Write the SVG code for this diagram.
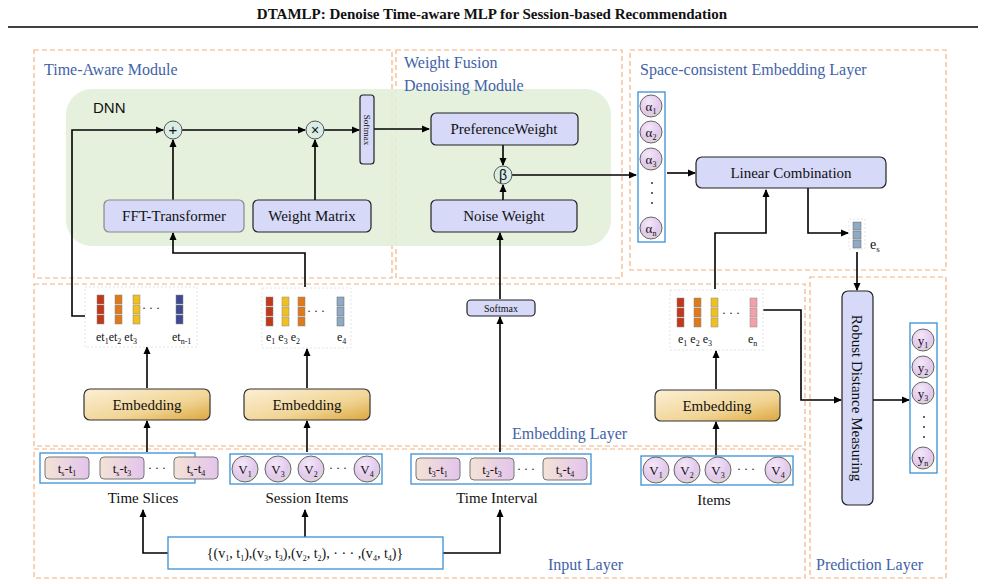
<svg xmlns="http://www.w3.org/2000/svg" width="985" height="584" viewBox="0 0 985 584">
<style>
text{font-family:"Liberation Serif",serif;fill:#111}
.ttl{font-weight:bold;font-size:15px}
.lay{fill:none;stroke:#f4b183;stroke-width:1.2;stroke-dasharray:5,3}
.lab{fill:#3f63a8;font-size:16px}
.blue{fill:#d6d9f7;stroke:#222;stroke-width:1.2}
.nt{font-size:15px;text-anchor:middle}
.emb{fill:url(#g);stroke:#333;stroke-width:1.2}
.grp{fill:#fff;stroke:#3a8fd6;stroke-width:1.3}
.pk{fill:url(#pg);stroke:#777;stroke-width:1}
.cir{fill:url(#cg);stroke:#666;stroke-width:1}
.op{fill:#d9ece6;stroke:#555;stroke-width:1}
.st{font-size:13px;text-anchor:middle}
.sm{font-size:12px;text-anchor:middle}
.vb{fill:#fff;stroke:#ddd;stroke-width:0.8;stroke-dasharray:2,2}
#conn path,#conn line{fill:none;stroke:#000;stroke-width:1.6;marker-end:url(#a)}
</style>
<defs>
<marker id="a" markerWidth="8" markerHeight="8" refX="7" refY="4" orient="auto" markerUnits="userSpaceOnUse"><path d="M0,0.5 L8,4 L0,7.5z" fill="#000"/></marker>
<linearGradient id="g" x1="0" y1="0" x2="1" y2="1"><stop offset="0" stop-color="#fcefd6"/><stop offset="0.6" stop-color="#f1d596"/><stop offset="1" stop-color="#dca73e"/></linearGradient>
<linearGradient id="pg" x1="0" y1="0" x2="1" y2="0"><stop offset="0" stop-color="#f4e3d6"/><stop offset="1" stop-color="#e3c4ec"/></linearGradient>
<radialGradient id="cg" cx="0.4" cy="0.3" r="0.8"><stop offset="0" stop-color="#f3e8f7"/><stop offset="0.6" stop-color="#e3c9ee"/><stop offset="1" stop-color="#d8dcc8"/></radialGradient>
<g id="bar"><rect x="0" y="0" width="7" height="9"/><rect x="0" y="10" width="7" height="9"/><rect x="0" y="20" width="7" height="9"/></g>
</defs>
<rect width="985" height="584" fill="#fff"/>
<text class="ttl" x="492" y="19" text-anchor="middle">DTAMLP: Denoise Time-aware MLP for Session-based Recommendation</text>
<line x1="8" y1="27" x2="978" y2="27" stroke="#000" stroke-width="1.5"/>

<g id="layers">
<rect class="lay" x="34" y="50" width="358" height="228"/>
<rect class="lay" x="396" y="50" width="226" height="228"/>
<rect class="lay" x="630" y="50" width="316" height="220"/>
<rect class="lay" x="34" y="284" width="771" height="162"/>
<rect class="lay" x="34" y="449" width="771" height="129"/>
<rect class="lay" x="810" y="277" width="136" height="301"/>
<rect x="66" y="89" width="545" height="157" rx="26" fill="#e2f0d9" opacity="0.9"/>
<text class="lab" x="44" y="75">Time-Aware Module</text>
<text class="lab" x="404" y="68">Weight Fusion</text>
<text class="lab" x="404" y="91">Denoising Module</text>
<text class="lab" x="640" y="75">Space-consistent Embedding Layer</text>
<text class="lab" x="512" y="439">Embedding Layer</text>
<text class="lab" x="548" y="570">Input Layer</text>
<text class="lab" x="816" y="570">Prediction Layer</text>
<text x="93" y="113" style="font-family:'Liberation Sans',sans-serif;font-size:15px">DNN</text>
</g>

<g id="conn">
<path d="M85,316 H72 V130 H163"/>
<line x1="182" y1="130" x2="305" y2="130"/>
<line x1="324" y1="130" x2="359" y2="130"/>
<line x1="374" y1="129" x2="429" y2="129"/>
<line x1="173" y1="200" x2="173" y2="140"/>
<line x1="315" y1="200" x2="315" y2="140"/>
<path d="M305,287 V253 H173 V233"/>
<line x1="503" y1="145" x2="503" y2="165"/>
<line x1="503" y1="200" x2="503" y2="185"/>
<line x1="500" y1="299" x2="500" y2="233"/>
<line x1="512" y1="175" x2="636" y2="175"/>
<line x1="667" y1="173" x2="695" y2="173"/>
<path d="M715,289 V233 H766 V190"/>
<path d="M808,188 V233 H848"/>
<line x1="857" y1="252" x2="857" y2="290"/>
<path d="M763,310 H801 V400 H841"/>
<line x1="873" y1="400" x2="909" y2="400"/>
<line x1="147" y1="388" x2="147" y2="347"/>
<line x1="147" y1="452" x2="147" y2="421"/>
<line x1="307" y1="388" x2="307" y2="349"/>
<line x1="307" y1="452" x2="307" y2="421"/>
<line x1="500" y1="452" x2="500" y2="317"/>
<line x1="716" y1="389" x2="716" y2="351"/>
<line x1="716" y1="455" x2="716" y2="422"/>
<path d="M168,553 H143 V510"/>
<line x1="305" y1="537" x2="305" y2="510"/>
<path d="M443,553 H500 V510"/>
</g>

<g id="plus"><circle class="op" cx="173" cy="130" r="9"/><text x="173" y="135" text-anchor="middle" style="font-family:'Liberation Sans',sans-serif;font-size:15px">+</text></g>
<g id="times"><circle class="op" cx="315" cy="130" r="9"/><text x="315" y="135" text-anchor="middle" style="font-family:'Liberation Sans',sans-serif;font-size:14px">×</text></g>
<g id="softmax1"><rect class="blue" x="360" y="95" width="14" height="69" rx="3"/><text x="367" y="130" font-size="9" text-anchor="middle" transform="rotate(90 367 130)" dy="3">Softmax</text></g>
<g id="fft"><rect class="blue" x="104" y="200" width="140" height="32" rx="5" style="stroke:#888"/><text class="nt" x="174" y="221">FFT-Transformer</text></g>
<g id="wm"><rect class="blue" x="253" y="200" width="118" height="32" rx="5"/><text class="nt" x="312" y="221">Weight Matrix</text></g>
<g id="pw"><rect class="blue" x="431" y="113" width="147" height="32" rx="5"/><text class="nt" x="504" y="134">PreferenceWeight</text></g>
<g id="beta"><circle class="op" cx="503" cy="175" r="9"/><text x="503" y="180" text-anchor="middle" style="font-family:'Liberation Sans',sans-serif;font-size:14px">β</text></g>
<g id="nw"><rect class="blue" x="431" y="200" width="146" height="32" rx="5"/><text class="nt" x="504" y="221">Noise Weight</text></g>
<g id="softmax2"><rect class="blue" x="467" y="300" width="68" height="16" rx="4"/><text x="501" y="312" font-size="10" text-anchor="middle">Softmax</text></g>

<g id="etvec"><rect class="vb" x="85" y="287" width="112" height="60"/>
<use href="#bar" x="97" y="295" fill="#c0391b" stroke="#888" stroke-width="0.5"/>
<use href="#bar" x="115" y="295" fill="#dd7a1c" stroke="#888" stroke-width="0.5"/>
<use href="#bar" x="133" y="295" fill="#f0c020" stroke="#888" stroke-width="0.5"/>
<text x="142" y="312" font-size="12">· · ·</text>
<use href="#bar" x="176" y="295" fill="#404a90" stroke="#888" stroke-width="0.5"/>
<text x="96" y="341" font-size="12">et<tspan font-size="8" dy="3">1</tspan><tspan dy="-3">et</tspan><tspan font-size="8" dy="3">2</tspan><tspan dy="-3"> et</tspan><tspan font-size="8" dy="3">3</tspan></text>
<text x="172" y="341" font-size="12">et<tspan font-size="8" dy="3">n-1</tspan></text>
</g>
<g id="evec"><rect class="vb" x="262" y="288" width="89" height="60"/>
<use href="#bar" x="266" y="297" fill="#c0391b" stroke="#888" stroke-width="0.5"/>
<use href="#bar" x="282" y="297" fill="#f0c020" stroke="#888" stroke-width="0.5"/>
<use href="#bar" x="298" y="297" fill="#dd7a1c" stroke="#888" stroke-width="0.5"/>
<text x="307" y="315" font-size="12">· · ·</text>
<use href="#bar" x="337" y="297" fill="#8eaac4" stroke="#666" stroke-width="0.5"/>
<text x="266" y="341" font-size="12">e<tspan font-size="8" dy="3">1</tspan><tspan dy="-3"> e</tspan><tspan font-size="8" dy="3">3</tspan><tspan dy="-3"> e</tspan><tspan font-size="8" dy="3">2</tspan></text>
<text x="337" y="341" font-size="12">e<tspan font-size="8" dy="3">4</tspan></text>
</g>
<g id="ivec"><rect class="vb" x="670" y="290" width="93" height="60"/>
<use href="#bar" x="677" y="298" fill="#c0391b" stroke="#888" stroke-width="0.5"/>
<use href="#bar" x="694" y="298" fill="#dd7a1c" stroke="#888" stroke-width="0.5"/>
<use href="#bar" x="711" y="298" fill="#f0c020" stroke="#888" stroke-width="0.5"/>
<text x="722" y="317" font-size="12">· · ·</text>
<use href="#bar" x="750" y="298" fill="#f4a0a8" stroke="#888" stroke-width="0.5"/>
<text x="678" y="343" font-size="12">e<tspan font-size="8" dy="3">1</tspan><tspan dy="-3"> e</tspan><tspan font-size="8" dy="3">2</tspan><tspan dy="-3"> e</tspan><tspan font-size="8" dy="3">3</tspan></text>
<text x="748" y="343" font-size="12">e<tspan font-size="8" dy="3">n</tspan></text>
</g>

<g id="emb1"><rect class="emb" x="84" y="389" width="126" height="31" rx="6"/><text class="nt" x="147" y="410">Embedding</text></g>
<g id="emb2"><rect class="emb" x="244" y="389" width="126" height="31" rx="6"/><text class="nt" x="307" y="410">Embedding</text></g>
<g id="emb3"><rect class="emb" x="655" y="390" width="125" height="31" rx="6"/><text class="nt" x="717" y="411">Embedding</text></g>

<g id="timeslices"><rect class="grp" x="40" y="453" width="155" height="30"/>
<rect class="pk" x="45" y="457" width="44" height="22" rx="4"/><rect class="pk" x="100" y="457" width="44" height="22" rx="4"/><rect class="pk" x="176" y="457" width="44" height="22" rx="4" transform="translate(-2,0)"/>
<text class="st" x="67" y="473">t<tspan font-size="8" dy="3">s</tspan><tspan dy="-3">-t</tspan><tspan font-size="8" dy="3">1</tspan></text>
<text class="st" x="122" y="473">t<tspan font-size="8" dy="3">s</tspan><tspan dy="-3">-t</tspan><tspan font-size="8" dy="3">3</tspan></text>
<text x="148" y="472" font-size="12">· · ·</text>
<text class="st" x="196" y="473">t<tspan font-size="8" dy="3">s</tspan><tspan dy="-3">-t</tspan><tspan font-size="8" dy="3">4</tspan></text>
<text class="nt" x="143" y="503" font-size="16">Time Slices</text></g>

<g id="sessitems"><rect class="grp" x="230" y="454" width="152" height="30"/>
<circle class="cir" cx="245" cy="469" r="13"/><circle class="cir" cx="278" cy="469" r="13"/><circle class="cir" cx="311" cy="469" r="13"/><circle class="cir" cx="367" cy="469" r="13"/>
<text class="st" x="245" y="474" font-size="14">V<tspan font-size="8" dy="3">1</tspan></text>
<text class="st" x="278" y="474" font-size="14">V<tspan font-size="8" dy="3">3</tspan></text>
<text class="st" x="311" y="474" font-size="14">V<tspan font-size="8" dy="3">2</tspan></text>
<text x="329" y="472" font-size="12">· · ·</text>
<text class="st" x="367" y="474" font-size="14">V<tspan font-size="8" dy="3">4</tspan></text>
<text class="nt" x="307" y="503" font-size="16">Session Items</text></g>

<g id="timeint"><rect class="grp" x="411" y="454" width="180" height="30"/>
<rect class="pk" x="416" y="458" width="44" height="22" rx="4"/><rect class="pk" x="470" y="458" width="44" height="22" rx="4"/><rect class="pk" x="543" y="458" width="44" height="22" rx="4"/>
<text class="st" x="438" y="474">t<tspan font-size="8" dy="3">3</tspan><tspan dy="-3">-t</tspan><tspan font-size="8" dy="3">1</tspan></text>
<text class="st" x="492" y="474">t<tspan font-size="8" dy="3">2</tspan><tspan dy="-3">-t</tspan><tspan font-size="8" dy="3">3</tspan></text>
<text x="517" y="473" font-size="12">· · ·</text>
<text class="st" x="565" y="474">t<tspan font-size="8" dy="3">s</tspan><tspan dy="-3">-t</tspan><tspan font-size="8" dy="3">4</tspan></text>
<text class="nt" x="497" y="503" font-size="16">Time Interval</text></g>

<g id="items"><rect class="grp" x="641" y="456" width="152" height="29"/>
<circle class="cir" cx="656" cy="470" r="13"/><circle class="cir" cx="687" cy="470" r="13"/><circle class="cir" cx="718" cy="470" r="13"/><circle class="cir" cx="778" cy="470" r="13"/>
<text class="st" x="656" y="475" font-size="14">V<tspan font-size="8" dy="3">1</tspan></text>
<text class="st" x="687" y="475" font-size="14">V<tspan font-size="8" dy="3">2</tspan></text>
<text class="st" x="718" y="475" font-size="14">V<tspan font-size="8" dy="3">3</tspan></text>
<text x="737" y="473" font-size="12">· · ·</text>
<text class="st" x="778" y="475" font-size="14">V<tspan font-size="8" dy="3">4</tspan></text>
<text class="nt" x="714" y="505" font-size="16">Items</text></g>

<g id="inputseq"><rect class="grp" x="168" y="537" width="275" height="32"/>
<text x="305" y="558" font-size="14" text-anchor="middle">{(v<tspan font-size="8" dy="3">1</tspan><tspan dy="-3">, t</tspan><tspan font-size="8" dy="3">1</tspan><tspan dy="-3">),(v</tspan><tspan font-size="8" dy="3">3</tspan><tspan dy="-3">, t</tspan><tspan font-size="8" dy="3">3</tspan><tspan dy="-3">),(v</tspan><tspan font-size="8" dy="3">2</tspan><tspan dy="-3">, t</tspan><tspan font-size="8" dy="3">2</tspan><tspan dy="-3">), · · · ,(v</tspan><tspan font-size="8" dy="3">4</tspan><tspan dy="-3">, t</tspan><tspan font-size="8" dy="3">4</tspan><tspan dy="-3">)}</tspan></text></g>

<g id="alpha"><rect class="grp" x="638" y="92" width="27" height="150"/>
<circle class="cir" cx="651" cy="106" r="11"/><circle class="cir" cx="651" cy="132" r="11"/><circle class="cir" cx="651" cy="159" r="11"/><circle class="cir" cx="651" cy="228" r="11"/>
<text class="st" x="651" y="111">α<tspan font-size="8" dy="3">1</tspan></text>
<text class="st" x="651" y="137">α<tspan font-size="8" dy="3">2</tspan></text>
<text class="st" x="651" y="164">α<tspan font-size="8" dy="3">3</tspan></text>
<text class="st" x="651" y="233">α<tspan font-size="8" dy="3">n</tspan></text>
<circle cx="652" cy="183" r="1" fill="#333"/><circle cx="652" cy="193" r="1" fill="#333"/><circle cx="652" cy="203" r="1" fill="#333"/>
</g>
<g id="lincomb"><rect class="blue" x="696" y="157" width="190" height="31" rx="6"/><text class="nt" x="791" y="178">Linear Combination</text></g>
<g id="es"><rect class="vb" x="849" y="219" width="16" height="30"/>
<g fill="#8eaac4" stroke="#666" stroke-width="0.5"><rect x="853" y="222" width="8" height="8"/><rect x="853" y="231" width="8" height="8"/><rect x="853" y="240" width="8" height="8"/></g>
<text x="870" y="249" font-size="14">e<tspan font-size="9" dy="3">s</tspan></text></g>
<g id="robust"><rect class="blue" x="842" y="291" width="31" height="214" rx="6"/><text class="nt" x="857" y="398" transform="rotate(90 857 398)" dy="5">Robust Distance Measuring</text></g>
<g id="yout"><rect class="grp" x="910" y="323" width="27" height="150"/>
<circle class="cir" cx="923" cy="340" r="11"/><circle class="cir" cx="923" cy="367" r="11"/><circle class="cir" cx="923" cy="393" r="11"/><circle class="cir" cx="923" cy="458" r="11"/>
<text class="st" x="923" y="345">y<tspan font-size="8" dy="3">1</tspan></text>
<text class="st" x="923" y="372">y<tspan font-size="8" dy="3">2</tspan></text>
<text class="st" x="923" y="398">y<tspan font-size="8" dy="3">3</tspan></text>
<text class="st" x="923" y="463">y<tspan font-size="8" dy="3">n</tspan></text>
<circle cx="924" cy="417" r="1" fill="#333"/><circle cx="924" cy="427" r="1" fill="#333"/><circle cx="924" cy="437" r="1" fill="#333"/>
</g>
</svg>
